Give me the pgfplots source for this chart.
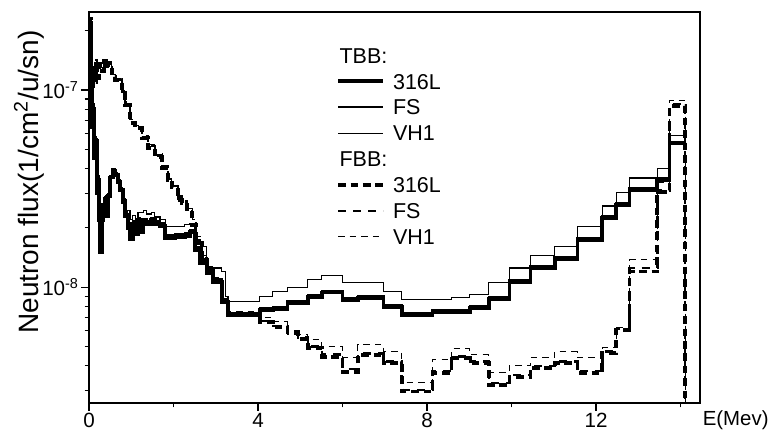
\documentclass[border=0pt]{standalone}
\usepackage{fontspec}
\setmainfont{Liberation Sans}
\usepackage{pgfplots}
\pgfplotsset{compat=1.18}
\usepackage{pgfplotstable}

\pgfplotstableread{
E t316 tFS tVH1
0.000 1.40e-7 1.45e-7 1.50e-7
0.020 2.20e-7 2.25e-7 2.30e-7
0.045 1.10e-7 1.15e-7 1.20e-7
0.070 6.5e-8 6.8e-8 7.0e-8
0.095 8.0e-8 8.2e-8 8.5e-8
0.120 4.5e-8 4.7e-8 4.9e-8
0.150 5.5e-8 5.6e-8 5.8e-8
0.180 3.0e-8 3.1e-8 3.2e-8
0.210 3.5e-8 3.6e-8 3.7e-8
0.240 2.2e-8 2.3e-8 2.4e-8
0.265 1.5e-8 1.55e-8 1.6e-8
0.300 2.2e-8 2.25e-8 2.3e-8
0.340 2.6e-8 2.65e-8 2.7e-8
0.380 2.8e-8 2.85e-8 2.9e-8
0.420 2.3e-8 2.35e-8 2.4e-8
0.450 2.9e-8 2.95e-8 3.0e-8
0.500 3.6e-8 3.65e-8 3.7e-8
0.560 3.9e-8 3.95e-8 4.0e-8
0.620 3.7e-8 3.75e-8 3.8e-8
0.680 3.4e-8 3.45e-8 3.5e-8
0.740 3.1e-8 3.15e-8 3.2e-8
0.800 2.7e-8 2.75e-8 2.8e-8
0.860 2.3e-8 2.35e-8 2.4e-8
0.920 2.0e-8 2.1e-8 2.45e-8
0.970 1.75e-8 1.85e-8 2.2e-8
1.040 2.1e-8 2.15e-8 2.3e-8
1.090 1.85e-8 1.95e-8 2.1e-8
1.160 2.2e-8 2.25e-8 2.4e-8
1.210 1.9e-8 2.0e-8 2.4e-8
1.280 2.15e-8 2.2e-8 2.45e-8
1.370 2.1e-8 2.15e-8 2.35e-8
1.470 2.2e-8 2.25e-8 2.4e-8
1.560 2.1e-8 2.15e-8 2.27e-8
1.680 2.05e-8 2.1e-8 2.2e-8
1.800 1.78e-8 1.83e-8 2.02e-8
2.040 1.8e-8 1.85e-8 2.02e-8
2.270 1.82e-8 1.88e-8 2.07e-8
2.390 1.9e-8 1.95e-8 2.1e-8
2.500 1.55e-8 1.6e-8 1.75e-8
2.630 1.33e-8 1.38e-8 1.6e-8
2.790 1.18e-8 1.2e-8 1.27e-8
2.930 1.06e-8 1.1e-8 1.25e-8
3.140 8.4e-9 8.7e-9 1.2e-8
3.220 8.4e-9 8.6e-9 9.0e-9
3.290 7.24e-9 7.35e-9 8.42e-9
4.040 7.67e-9 7.8e-9 8.93e-9
4.350 7.76e-9 7.9e-9 9.5e-9
4.700 8.32e-9 8.45e-9 1.0e-8
4.940 8.32e-9 8.45e-9 1.0e-8
5.180 8.93e-9 9.05e-9 1.09e-8
5.510 9.4e-9 9.55e-9 1.14e-8
6.000 8.63e-9 8.8e-9 1.05e-8
6.360 8.82e-9 8.95e-9 1.06e-8
6.970 7.94e-9 8.1e-9 9.5e-9
7.400 7.24e-9 7.4e-9 8.63e-9
8.130 7.50e-9 7.65e-9 8.63e-9
8.580 7.50e-9 7.65e-9 8.82e-9
9.010 7.85e-9 8.0e-9 9.14e-9
9.460 8.72e-9 8.9e-9 1.05e-8
9.950 1.06e-8 1.08e-8 1.25e-8
10.450 1.25e-8 1.27e-8 1.44e-8
11.020 1.39e-8 1.42e-8 1.60e-8
11.560 1.74e-8 1.77e-8 2.02e-8
12.150 2.25e-8 2.29e-8 2.58e-8
12.480 2.61e-8 2.66e-8 3.01e-8
12.790 3.11e-8 3.17e-8 3.58e-8
13.450 3.50e-8 3.57e-8 4.02e-8
13.740 5.38e-8 5.45e-8 5.91e-8
14.110 5.38e-8 5.45e-8 5.91e-8
}\tbb

\pgfplotstableread{
E f316 fFS fVH1
0.00 1.40e-7 1.42e-7 1.45e-7
0.02 2.30e-7 2.30e-7 2.30e-7
0.05 1.20e-7 1.22e-7 1.25e-7
0.07 1.05e-7 1.07e-7 1.10e-7
0.10 1.30e-7 1.32e-7 1.35e-7
0.13 1.10e-7 1.12e-7 1.15e-7
0.16 1.40e-7 1.42e-7 1.45e-7
0.19 1.15e-7 1.17e-7 1.20e-7
0.24 1.35e-7 1.37e-7 1.40e-7
0.30 1.25e-7 1.27e-7 1.30e-7
0.35 1.40e-7 1.41e-7 1.42e-7
0.40 1.30e-7 1.32e-7 1.34e-7
0.45 1.37e-7 1.38e-7 1.40e-7
0.54 1.16e-7 1.18e-7 1.20e-7
0.62 1.12e-7 1.13e-7 1.15e-7
0.78 9.7e-8 9.8e-8 1.0e-7
0.85 8.4e-8 8.5e-8 8.7e-8
0.97 6.8e-8 6.9e-8 7.1e-8
1.09 6.4e-8 6.5e-8 6.6e-8
1.25 5.7e-8 5.8e-8 5.9e-8
1.40 5.1e-8 5.2e-8 5.3e-8
1.56 4.57e-8 4.65e-8 4.75e-8
1.73 4.0e-8 4.05e-8 4.15e-8
1.87 3.5e-8 3.55e-8 3.65e-8
1.96 3.2e-8 3.25e-8 3.35e-8
2.10 2.77e-8 2.82e-8 2.9e-8
2.20 2.67e-8 2.7e-8 2.75e-8
2.32 2.38e-8 2.42e-8 2.5e-8
2.44 2.07e-8 2.12e-8 2.2e-8
2.53 1.68e-8 1.72e-8 1.8e-8
2.67 1.38e-8 1.41e-8 1.45e-8
2.79 1.22e-8 1.24e-8 1.27e-8
2.93 1.09e-8 1.1e-8 1.12e-8
3.14 8.4e-9 8.5e-9 8.7e-9
3.29 7.24e-9 7.3e-9 7.50e-9
4.04 6.67e-9 6.75e-9 6.99e-9
4.35 6.29e-9 6.35e-9 6.67e-9
4.70 5.93e-9 5.85e-9 5.73e-9
4.94 5.47e-9 5.55e-9 5.73e-9
5.18 4.92e-9 5.0e-9 5.41e-9
5.51 4.43e-9 4.55e-9 4.98e-9
6.00 3.72e-9 3.85e-9 4.4e-9
6.36 4.54e-9 4.6e-9 5.10e-9
6.97 4.13e-9 4.2e-9 4.70e-9
7.40 2.95e-9 3.0e-9 3.27e-9
8.13 3.68e-9 3.75e-9 4.28e-9
8.58 4.38e-9 4.45e-9 4.87e-9
9.01 4.13e-9 4.2e-9 4.54e-9
9.46 3.20e-9 3.25e-9 3.68e-9
9.95 3.51e-9 3.57e-9 4.0e-9
10.45 3.90e-9 3.97e-9 4.38e-9
11.02 4.13e-9 4.2e-9 4.70e-9
11.56 3.68e-9 3.75e-9 4.38e-9
12.15 4.65e-9 4.72e-9 4.92e-9
12.48 6.08e-9 6.15e-9 6.22e-9
12.79 1.20e-8 1.25e-8 1.38e-8
13.45 3.04e-8 3.1e-8 3.38e-8
13.74 8.3e-8 8.5e-8 8.9e-8
14.11 8.3e-8 8.5e-8 8.9e-8
14.11 1e-9 1e-9 1e-9
}\fbb

\begin{document}
\begin{tikzpicture}
\begin{axis}[
  at={(0pt,0pt)}, anchor=south west,
  scale only axis, width=305.5pt, height=195.5pt,
  ymode=log, xmin=0, xmax=14.46, ymin=2.58e-9, ymax=2.49e-7,
  axis line style={line width=0.7pt},
  xtick={0,4,8,12}, xticklabels={0,4,8,12},
  minor xtick={2,6,10,14},
  ytick={1e-8,1e-7}, yticklabels={10\textsuperscript{-8},10\textsuperscript{-7}},
  minor ytick={3e-9,4e-9,5e-9,6e-9,7e-9,8e-9,9e-9,2e-8,3e-8,4e-8,5e-8,6e-8,7e-8,8e-8,9e-8,2e-7},
  tick pos=left, tick align=outside,
  major tick length=3.8pt, minor tick length=2.2pt,
  every tick/.style={black, line width=0.6pt},
  xticklabel style={font=\fontsize{10.3}{12}\selectfont, inner sep=1pt},
  yticklabel style={font=\fontsize{10.3}{12}\selectfont, inner sep=1pt},
  xlabel={E(Mev)},
  xlabel style={at={(axis description cs:1.004,-0.0435)}, anchor=west, inner sep=0pt, font=\fontsize{10.2}{12}\selectfont},
  ylabel={Neutron flux(1/cm\textsuperscript{2}/u/sn)},
  ylabel style={at={(axis description cs:-0.0982,0.565)}, anchor=center, inner sep=0pt, font=\fontsize{14}{16}\selectfont},
  legend cell align=left,
  legend image code/.code={\draw[#1] (0pt,0pt) -- (22.5pt,0pt);},
  legend style={at={(axis description cs:0.404,0.9097)}, anchor=north west,
    draw=none, fill=none, inner sep=0pt, row sep=5.25pt,
    font=\fontsize{10.75}{12}\selectfont,
    nodes={inner sep=0pt, text height=7.7pt, text depth=0pt},
    /tikz/every odd column/.append style={column sep=4pt}},
]
\addlegendimage{legend image code/.code={\node[anchor=west, inner sep=0pt, text height=7.7pt, text depth=0pt, font=\fontsize{10.75}{12}\selectfont] at (0pt,0pt) {\rlap{TBB:}};}}
\addlegendentry{\mbox{}}
\addplot[const plot, black, line width=1.9pt] table[x=E, y=t316] {\tbb};
\addlegendentry{316L}
\addplot[const plot, black, line width=1.2pt] table[x=E, y=tFS] {\tbb};
\addlegendentry{FS}
\addplot[const plot, black, line width=0.55pt] table[x=E, y=tVH1] {\tbb};
\addlegendentry{VH1}
\addlegendimage{legend image code/.code={\node[anchor=west, inner sep=0pt, text height=7.7pt, text depth=0pt, font=\fontsize{10.75}{12}\selectfont] at (0pt,0pt) {\rlap{FBB:}};}}
\addlegendentry{\mbox{}}
\addplot[const plot, black, line width=1.9pt, dash pattern=on 3.8pt off 2.4pt] table[x=E, y=f316] {\fbb};
\addlegendentry{316L}
\addplot[const plot, black, line width=1.2pt, dash pattern=on 4pt off 3.5pt] table[x=E, y=fFS] {\fbb};
\addlegendentry{FS}
\addplot[const plot, black, line width=0.55pt, dash pattern=on 3.2pt off 2.6pt] table[x=E, y=fVH1] {\fbb};
\addlegendentry{VH1}
\end{axis}
\pgfresetboundingbox
\path[use as bounding box] (-44.5pt,-16.5pt) rectangle (340.5pt,201.5pt);
\end{tikzpicture}
\end{document}
